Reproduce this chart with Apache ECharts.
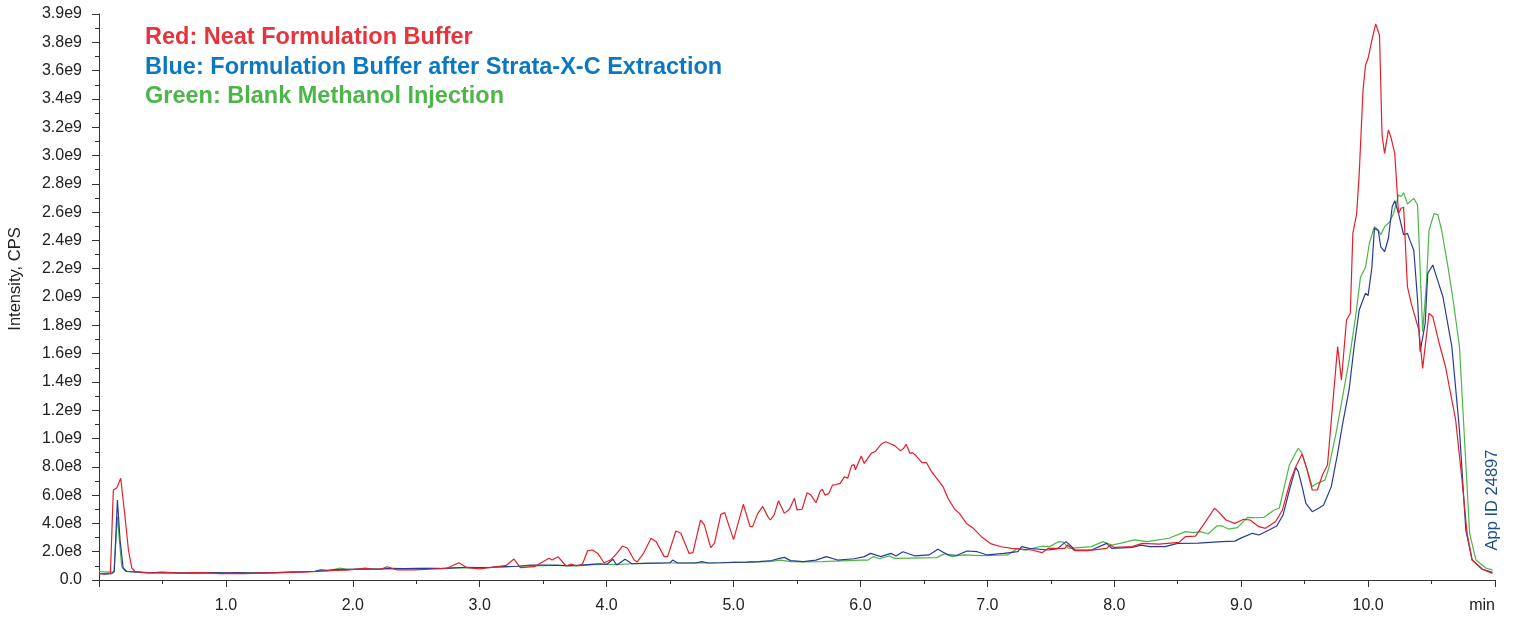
<!DOCTYPE html>
<html>
<head>
<meta charset="utf-8">
<script src="https://cdn.jsdelivr.net/npm/echarts@6/dist/echarts.min.js"></script>
<style>
html,body{margin:0;padding:0;background:#fff;}
#chart{width:1514px;height:617px;}
</style>
</head>
<body>
<div id="chart"></div>
<script>
// Values in units of 1e8 CPS; time in minutes
const xTickLabels = ['1.0','2.0','3.0','4.0','5.0','6.0','7.0','8.0','9.0','10.0'];
const legendLines = ['Red: Neat Formulation Buffer','Blue: Formulation Buffer after Strata-X-C Extraction','Green: Blank Methanol Injection'];

const redTime = [0.00,0.05,0.09,0.113,0.14,0.171,0.205,0.232,0.258,0.284,0.35,0.45,0.55,0.65,0.75,0.85,0.95,1.05,1.15,1.25,1.35,1.45,1.55,1.65,1.75,1.85,1.95,2.05,2.10,2.15,2.22,2.27,2.35,2.48,2.61,2.74,2.836,2.90,3.00,3.14,3.21,3.27,3.32,3.43,3.546,3.57,3.617,3.68,3.72,3.76,3.81,3.85,3.89,3.93,3.98,4.03,4.08,4.125,4.165,4.217,4.24,4.29,4.35,4.39,4.454,4.48,4.546,4.585,4.65,4.68,4.74,4.77,4.82,4.85,4.90,4.93,5.00,5.077,5.13,5.15,5.19,5.23,5.27,5.29,5.32,5.354,5.40,5.44,5.48,5.50,5.54,5.58,5.61,5.65,5.683,5.70,5.72,5.75,5.78,5.81,5.84,5.875,5.90,5.93,5.95,5.96,6.006,6.03,6.085,6.12,6.164,6.20,6.24,6.27,6.314,6.34,6.36,6.39,6.41,6.44,6.485,6.52,6.56,6.61,6.65,6.69,6.743,6.78,6.835,6.89,6.953,7.03,7.11,7.19,7.35,7.43,7.48,7.61,7.63,7.69,7.79,7.94,7.97,8.00,8.14,8.22,8.35,8.51,8.56,8.64,8.71,8.79,8.82,8.88,8.95,9.02,9.07,9.14,9.19,9.27,9.325,9.39,9.43,9.48,9.52,9.56,9.60,9.64,9.68,9.76,9.79,9.83,9.86,9.88,9.91,9.93,9.96,9.98,10.00,10.03,10.06,10.09,10.11,10.13,10.16,10.18,10.21,10.24,10.26,10.28,10.31,10.34,10.40,10.43,10.48,10.51,10.56,10.61,10.69,10.74,10.78,10.82,10.90,10.98];
const redE8 = [0.45,0.45,0.48,6.36,6.5,7.19,4.47,2.12,0.85,0.6,0.52,0.5,0.52,0.48,0.52,0.5,0.45,0.47,0.45,0.48,0.5,0.52,0.55,0.58,0.62,0.68,0.7,0.78,0.85,0.75,0.76,0.94,0.71,0.71,0.76,0.83,1.22,0.87,0.78,0.94,1.04,1.48,0.87,0.94,1.53,1.41,1.65,0.99,1.13,0.99,1.13,2.07,2.12,1.88,1.22,1.41,1.88,2.40,2.24,1.41,1.27,1.88,2.95,2.71,1.65,1.65,3.46,3.30,1.88,1.93,4.24,3.9,2.29,2.6,4.64,4.76,2.85,5.35,3.77,3.77,4.69,5.2,4.48,4.24,4.6,5.6,4.71,5.0,5.77,4.95,5.0,6.17,6.0,5.46,6.29,6.41,6.0,6.1,6.71,6.75,6.83,7.30,7.2,8.08,8.15,7.79,8.76,8.24,8.95,9.1,9.61,9.77,9.61,9.5,9.14,9.3,9.59,8.95,9.0,8.76,8.29,8.3,7.66,7.07,6.6,5.77,5.0,4.71,4.0,3.65,3.06,2.55,2.35,2.24,2.12,1.93,2.24,2.24,2.47,2.07,2.07,2.24,2.47,2.3,2.36,2.59,2.53,2.66,3.06,3.10,4.0,5.07,4.83,4.24,4.0,4.29,4.24,3.77,3.65,4.12,4.95,7.07,8.0,8.9,7.77,6.36,6.36,7.42,8.13,16.49,14.13,18.37,18.85,24.5,25.9,28.7,34.6,36.4,36.87,38.16,39.3,38.5,31.45,30.15,31.8,31.3,30.15,25.9,26.27,26.34,20.73,19.55,17.67,14.96,18.85,18.6,16.73,15.07,11.31,7.07,3.3,1.41,0.76,0.47];

const blueTime = [0.00,0.05,0.10,0.12,0.145,0.166,0.19,0.22,0.30,0.40,0.50,0.60,0.70,0.80,0.90,1.00,1.10,1.20,1.30,1.40,1.50,1.60,1.70,1.75,1.80,1.90,2.00,2.10,2.20,2.30,2.40,2.50,2.60,2.70,2.80,2.90,3.00,3.10,3.20,3.30,3.40,3.50,3.60,3.70,3.80,3.90,3.95,4.00,4.05,4.08,4.145,4.20,4.30,4.40,4.50,4.52,4.56,4.70,4.75,4.80,4.90,5.00,5.10,5.20,5.30,5.37,5.40,5.45,5.55,5.65,5.73,5.82,5.95,6.03,6.08,6.16,6.24,6.28,6.335,6.43,6.54,6.61,6.69,6.76,6.84,6.92,7.00,7.13,7.24,7.27,7.33,7.48,7.55,7.62,7.65,7.69,7.82,7.94,7.98,8.14,8.21,8.28,8.40,8.50,8.66,8.85,8.95,9.01,9.09,9.14,9.22,9.28,9.33,9.38,9.43,9.45,9.48,9.51,9.56,9.61,9.65,9.71,9.76,9.80,9.85,9.89,9.93,9.96,9.98,10.00,10.03,10.05,10.08,10.10,10.13,10.16,10.19,10.21,10.24,10.28,10.31,10.33,10.36,10.39,10.41,10.45,10.47,10.51,10.54,10.59,10.66,10.72,10.77,10.82,10.90,10.98];
const blueE8 = [0.45,0.42,0.45,0.6,5.65,2.83,0.85,0.6,0.55,0.5,0.55,0.5,0.48,0.5,0.52,0.5,0.52,0.48,0.5,0.52,0.55,0.58,0.62,0.72,0.68,0.75,0.75,0.78,0.76,0.82,0.8,0.82,0.82,0.8,0.85,0.9,0.87,0.9,0.95,0.97,1.06,1.05,1.04,1.02,1.05,1.12,1.15,1.1,1.46,1.06,1.46,1.15,1.18,1.2,1.22,1.41,1.2,1.2,1.3,1.2,1.22,1.25,1.27,1.3,1.38,1.55,1.6,1.37,1.30,1.4,1.65,1.41,1.5,1.65,1.88,1.65,1.88,1.7,2.0,1.7,1.77,2.17,1.77,1.75,2.05,2.0,1.77,1.88,2.0,2.36,2.24,2.12,2.2,2.71,2.47,2.12,2.12,2.59,2.24,2.3,2.47,2.36,2.36,2.59,2.6,2.71,2.75,3.01,3.3,3.18,3.53,3.82,4.59,6.36,7.96,7.66,6.6,5.42,4.83,5.07,5.3,6.6,8.95,11.07,13.43,16.49,19.08,19.8,20.26,20.1,22.1,24.85,24.7,23.55,23.2,24.15,26.38,26.8,25.9,24.4,24.5,24.0,23.3,19.79,16.13,18.14,21.67,22.26,21.4,20.0,16.49,10.6,3.53,1.41,0.76,0.54];

const greenTime = [0.00,0.05,0.10,0.118,0.145,0.179,0.21,0.30,0.40,0.50,0.60,0.70,0.80,0.90,1.00,1.10,1.20,1.30,1.40,1.50,1.60,1.70,1.80,1.90,1.95,2.00,2.10,2.20,2.30,2.40,2.50,2.60,2.70,2.80,2.90,3.00,3.10,3.20,3.30,3.40,3.50,3.60,3.70,3.80,3.90,4.00,4.10,4.20,4.30,4.40,4.50,4.60,4.70,4.80,4.90,5.00,5.10,5.20,5.30,5.37,5.45,5.55,5.70,5.85,6.00,6.06,6.10,6.15,6.23,6.27,6.40,6.60,6.67,6.72,6.81,6.95,7.10,7.16,7.24,7.30,7.43,7.49,7.56,7.60,7.64,7.82,7.91,7.98,8.07,8.16,8.26,8.43,8.56,8.62,8.68,8.74,8.81,8.85,8.90,8.97,9.05,9.12,9.18,9.26,9.30,9.38,9.42,9.45,9.48,9.52,9.56,9.60,9.66,9.69,9.75,9.80,9.85,9.90,9.94,9.98,10.01,10.05,10.08,10.10,10.13,10.17,10.20,10.24,10.26,10.28,10.31,10.36,10.39,10.42,10.43,10.46,10.48,10.52,10.55,10.58,10.63,10.67,10.72,10.76,10.80,10.85,10.93,10.98];
const greenE8 = [0.6,0.58,0.55,0.55,4.47,0.94,0.6,0.58,0.52,0.5,0.52,0.5,0.5,0.52,0.5,0.5,0.52,0.5,0.52,0.55,0.6,0.62,0.65,0.85,0.75,0.75,0.78,0.78,0.8,0.8,0.8,0.82,0.82,0.85,0.85,0.87,0.9,0.93,0.97,1.0,1.02,1.05,1.0,1.02,1.08,1.1,1.1,1.15,1.17,1.18,1.2,1.2,1.22,1.2,1.22,1.24,1.25,1.28,1.32,1.41,1.30,1.28,1.3,1.35,1.4,1.41,1.65,1.5,1.7,1.53,1.55,1.58,1.88,1.65,1.77,1.72,1.75,1.77,2.24,2.1,2.40,2.36,2.71,2.68,2.24,2.36,2.71,2.47,2.64,2.83,2.71,2.95,3.42,3.35,3.42,3.25,3.83,3.82,3.6,3.7,4.43,4.4,4.43,4.95,5.07,8.13,8.83,9.31,8.95,7.77,6.6,6.83,7.07,7.9,10.5,13.0,15.5,18.5,21.4,22.1,23.8,24.97,24.73,24.4,24.97,25.3,25.9,27.2,27.1,27.37,26.57,26.97,26.5,19.79,17.55,21.0,24.7,25.9,25.8,24.7,22.1,19.79,16.49,9.89,3.3,1.41,0.83,0.71];

const pairs = (t, v) => t.map((x, i) => [x, v[i]]);

const FONT = '"Liberation Sans", Arial, Helvetica, sans-serif';
const chart = echarts.init(document.getElementById('chart'), null, {renderer: 'canvas'});

chart.setOption({
  animation: false,
  backgroundColor: '#ffffff',
  grid: {left: 99, right: 19, top: 14, bottom: 37, containLabel: false},
  xAxis: {
    type: 'value', min: 0, max: 11, interval: 1,
    axisLine: {show: true, lineStyle: {color: '#333', width: 1}},
    axisTick: {show: true, length: 7, lineStyle: {color: '#333'}},
    minorTick: {show: true, splitNumber: 2, length: 4, lineStyle: {color: '#333'}},
    splitLine: {show: false},
    axisLabel: {
      margin: 18, color: '#222', fontSize: 16, fontFamily: FONT,
      alignMaxLabel: 'right',
      formatter: function (v) {
        if (v === 0) return '';
        if (v === 11) return 'min';
        const i = Math.round(v) - 1;
        return xTickLabels[i] !== undefined ? xTickLabels[i] : '';
      }
    }
  },
  yAxis: {
    type: 'value', min: 0, max: 40, interval: 2,
    axisLine: {show: true, lineStyle: {color: '#333', width: 1}},
    axisTick: {show: true, length: 7, lineStyle: {color: '#333'}},
    minorTick: {show: true, splitNumber: 2, length: 4, lineStyle: {color: '#333'}},
    splitLine: {show: false},
    axisLabel: {
      margin: 17, color: '#222', fontSize: 16, fontFamily: FONT,
      formatter: function (v) {
        if (v === 0) return '0.0';
        if (v === 40) return '3.9e9';
        if (v < 10) return v.toFixed(1) + 'e8';
        return (v / 10).toFixed(1) + 'e9';
      }
    }
  },
  graphic: [
    {type: 'text', x: 145, y: 38, style: {text: legendLines[0], fill: '#e8333c', font: 'bold 23.5px ' + FONT, textVerticalAlign: 'middle'}},
    {type: 'text', x: 145, y: 67.5, style: {text: legendLines[1], fill: '#0b78c1', font: 'bold 23.5px ' + FONT, textVerticalAlign: 'middle'}},
    {type: 'text', x: 145, y: 97, style: {text: legendLines[2], fill: '#4cb748', font: 'bold 23.5px ' + FONT, textVerticalAlign: 'middle'}},
    {type: 'text', x: 15, y: 279, rotation: Math.PI / 2,
      style: {text: 'Intensity, CPS', fill: '#222', font: '16.5px ' + FONT, textAlign: 'center', textVerticalAlign: 'middle'}},
    {type: 'text', x: 1492, y: 500, rotation: Math.PI / 2,
      style: {text: 'App ID 24897', fill: '#1e4f8c', font: '16.5px ' + FONT, textAlign: 'center', textVerticalAlign: 'middle'}}
  ],
  series: [
    {name: 'Green', type: 'line', data: pairs(greenTime, greenE8), showSymbol: false, lineStyle: {color: '#4cb648', width: 1.2}, itemStyle: {color: '#4cb648'}},
    {name: 'Blue', type: 'line', data: pairs(blueTime, blueE8), showSymbol: false, lineStyle: {color: '#283c96', width: 1.2}, itemStyle: {color: '#283c96'}},
    {name: 'Red', type: 'line', data: pairs(redTime, redE8), showSymbol: false, lineStyle: {color: '#e3202a', width: 1.2}, itemStyle: {color: '#e3202a'}}
  ]
});
</script>
</body>
</html>
